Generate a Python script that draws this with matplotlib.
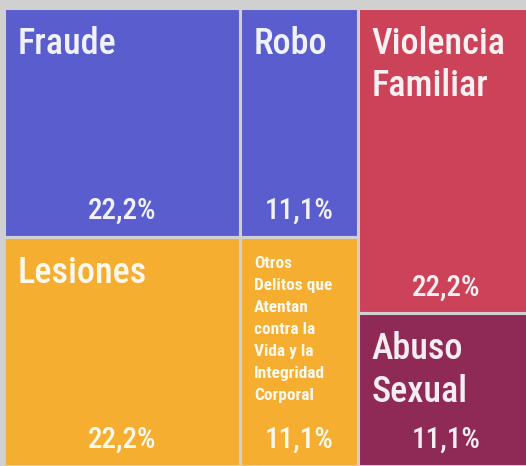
import matplotlib
matplotlib.use("Agg")
import matplotlib.pyplot as plt
from matplotlib.patches import Rectangle
from matplotlib import font_manager

names = ["Fraude", "Robo", "Lesiones",
         "Otros\nDelitos que\nAtentan\ncontra la\nVida y la\nIntegridad\nCorporal",
         "Violencia\nFamiliar", "Abuso\nSexual"]
values = [22.2, 11.1, 22.2, 11.1, 22.2, 11.1]
labels = ["22,2%", "11,1%", "22,2%", "11,1%", "22,2%", "11,1%"]
colors = ["#5a5dcd", "#5a5dcd", "#f5ae2f", "#f5ae2f", "#cc4258", "#8f2955"]

avail = {f.name for f in font_manager.fontManager.ttflist}
fam = [f for f in ["Liberation Sans Narrow", "Roboto Condensed", "Open Sans Condensed", "Roboto", "DejaVu Sans"] if f in avail]
plt.rcParams['font.family'] = fam

W, H = 526, 466
fig = plt.figure(figsize=(W / 100, H / 100), dpi=100)
fig.patch.set_facecolor("#d0d0d0")
ax = fig.add_axes([4 / W, 0, 531 / W, 458 / H])
ax.set_xlim(0, 1)
ax.set_ylim(1, 0)
ax.axis("off")

total = sum(values)
left_sum = sum(values[:4])
lw = left_sum / total
top_h = (values[0] + values[1]) / left_sum
cells = []
x = 0
for i in (0, 1):
    w = values[i] / (values[0] + values[1]) * lw
    cells.append((x, 0, w, top_h)); x += w
x = 0
for i in (2, 3):
    w = values[i] / (values[2] + values[3]) * lw
    cells.append((x, top_h, w, 1 - top_h)); x += w
right_sum = values[4] + values[5]
y = 0
for i in (4, 5):
    h = values[i] / right_sum
    cells.append((lw, y, 1 - lw, h)); y += h

for i, (cx, cy, cw, ch) in enumerate(cells):
    ax.add_patch(Rectangle((cx, cy), cw, ch, facecolor=colors[i],
                           edgecolor="#d0d0d0", linewidth=2.2))
    small = i == 3
    ax.annotate(names[i], (cx, cy), xytext=(10, -13 if not small else -14),
                textcoords="offset points", ha="left", va="top",
                fontsize=12.5 if small else 26, color="white", alpha=0.92,
                linespacing=1.58 if small else 1.22,
                fontweight="bold" if small else "medium")
    ax.annotate(labels[i], (cx + cw / 2, cy + ch), xytext=(0, 13),
                textcoords="offset points", ha="center", va="baseline",
                fontsize=21, color="white", alpha=0.92, fontweight="medium")

fig.savefig("out.png", dpi=100, facecolor=fig.get_facecolor())
